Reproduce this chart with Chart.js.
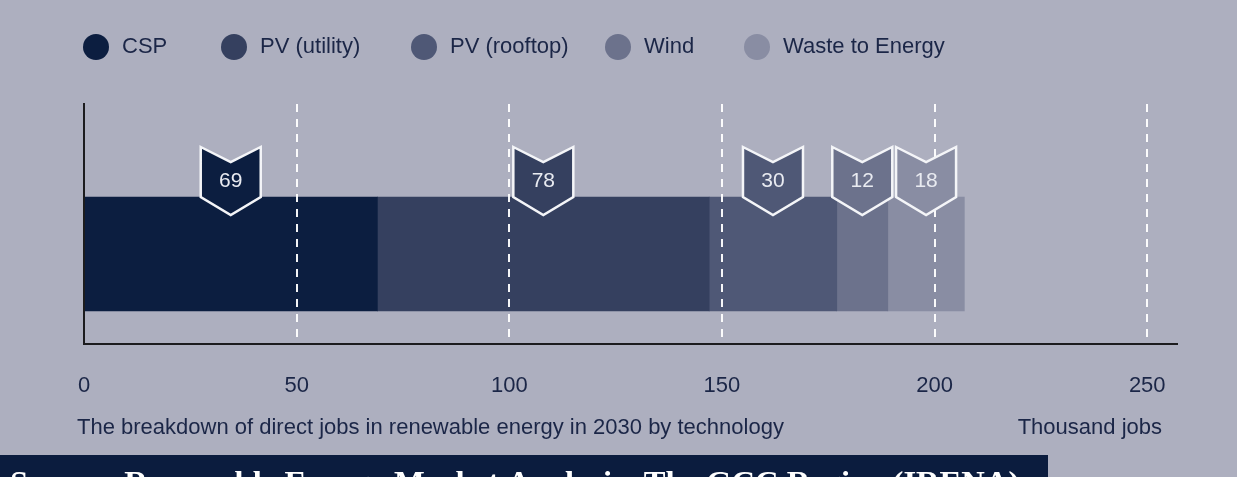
<!DOCTYPE html>
<html><head><meta charset="utf-8">
<script src="https://cdn.jsdelivr.net/npm/chart.js@4.4.0/dist/chart.umd.min.js"></script>
<style>html,body{margin:0;padding:0;background:#adafbf;overflow:hidden}canvas{display:block}</style>
</head><body>
<canvas id="c" width="1237" height="477"></canvas>
<script>
// ---- data ----
const categories = ['CSP', 'PV (utility)', 'PV (rooftop)', 'Wind', 'Waste to Energy'];
const jobs = [69, 78, 30, 12, 18];           // thousand jobs
const colors = ['#0c1e40', '#35405f', '#4f5876', '#6c728c', '#898da3'];
const xTicks = [0, 50, 100, 150, 200, 250];
const axisTitle = 'The breakdown of direct jobs in renewable energy in 2030 by technology';
const unitLabel = 'Thousand jobs';
const sourceText = 'Source: Renewable Energy Market Analysis: The GCC Region (IRENA)';

const FONT = '"Liberation Sans", Arial, Helvetica, sans-serif';
const TEXT = '#1b2647';

const datasets = categories.map((c, i) => ({
  label: c,
  data: [{ x: jobs[i], y: 0 }],
  backgroundColor: colors[i],
  borderWidth: 0,
  barThickness: 114
}));

const decor = {
  id: 'decor',
  beforeDraw(chart) {
    const ctx = chart.ctx;
    ctx.save();
    ctx.fillStyle = '#adafbf';
    ctx.fillRect(0, 0, chart.width, chart.height);
    ctx.restore();
  },
  afterDraw(chart) {
    const ctx = chart.ctx;
    const xs = chart.scales.x;
    ctx.save();
    // legend
    const legendX = [96, 234, 424, 618, 757];
    ctx.font = '22px ' + FONT;
    ctx.textBaseline = 'middle';
    ctx.textAlign = 'left';
    categories.forEach((c, i) => {
      ctx.beginPath();
      ctx.arc(legendX[i], 47, 13, 0, Math.PI * 2);
      ctx.fillStyle = colors[i];
      ctx.fill();
      ctx.fillStyle = TEXT;
      ctx.fillText(c, legendX[i] + 26, 47);
    });
    // callout markers
    let cum = 0;
    categories.forEach((c, i) => {
      const meta = chart.getDatasetMeta(i);
      const el = meta.data[0];
      const p = el.getProps(['y', 'height'], true);
      const top = p.y - p.height / 2;
      const cx = xs.getPixelForValue(cum + jobs[i] / 2);
      cum += jobs[i];
      ctx.beginPath();
      ctx.moveTo(cx - 30, top - 50);
      ctx.lineTo(cx, top - 35);
      ctx.lineTo(cx + 30, top - 50);
      ctx.lineTo(cx + 30, top);
      ctx.lineTo(cx, top + 18);
      ctx.lineTo(cx - 30, top);
      ctx.closePath();
      ctx.fillStyle = colors[i];
      ctx.fill();
      ctx.lineWidth = 2.5;
      ctx.lineJoin = 'miter';
      ctx.strokeStyle = '#f4f5f8';
      ctx.stroke();
      ctx.fillStyle = '#e9ebf1';
      ctx.font = '21px ' + FONT;
      ctx.textAlign = 'center';
      ctx.textBaseline = 'middle';
      ctx.fillText(String(jobs[i]), cx, top - 16);
    });
    // axis title & unit
    ctx.fillStyle = TEXT;
    ctx.font = '22px ' + FONT;
    ctx.textBaseline = 'alphabetic';
    ctx.textAlign = 'left';
    ctx.fillText(axisTitle, 77, 434);
    ctx.textAlign = 'right';
    ctx.fillText(unitLabel, 1162, 434);
    // source band
    ctx.fillStyle = '#0b1c3e';
    ctx.fillRect(0, 455, 1048, 22);
    ctx.fillStyle = '#ffffff';
    ctx.textAlign = 'left';
    ctx.font = 'bold 30px "Liberation Serif", "Times New Roman", serif';
    const w = ctx.measureText(sourceText).width;
    const size = 30 * 1010 / w;
    ctx.font = 'bold ' + size.toFixed(1) + 'px "Liberation Serif", "Times New Roman", serif';
    ctx.fillText(sourceText, 10, 493);
    ctx.restore();
  }
};

new Chart(document.getElementById('c'), {
  type: 'bar',
  data: { datasets },
  options: {
    indexAxis: 'y',
    responsive: false,
    animation: false,
    devicePixelRatio: 1,
    layout: { padding: { left: 84, right: 60, top: 104, bottom: 0 } },
    plugins: { legend: { display: false }, tooltip: { enabled: false } },
    scales: {
      x: {
        type: 'linear',
        stacked: true,
        min: 0,
        max: 257,
        afterBuildTicks: s => { s.ticks = xTicks.map(v => ({ value: v })); },
        afterFit: s => { s.height = 133; },
        ticks: {
          padding: 29,
          color: TEXT,
          font: { family: FONT, size: 22 }
        },
        grid: {
          z: 1,
          drawTicks: false,
          lineWidth: 2,
          color: c => (c.tick && c.tick.value === 0) ? 'rgba(0,0,0,0)' : 'rgba(255,255,255,0.95)'
        },
        border: { display: true, color: '#1c1c1e', width: 2, dash: [8, 7], z: 2 }
      },
      y: {
        type: 'linear',
        stacked: true,
        min: -84,
        max: 156,
        afterFit: s => { s.width = 0; },
        ticks: { display: false },
        grid: { display: false },
        border: { display: true, color: '#1c1c1e', width: 2, z: 2 }
      }
    }
  },
  plugins: [decor]
});
</script>
</body></html>
